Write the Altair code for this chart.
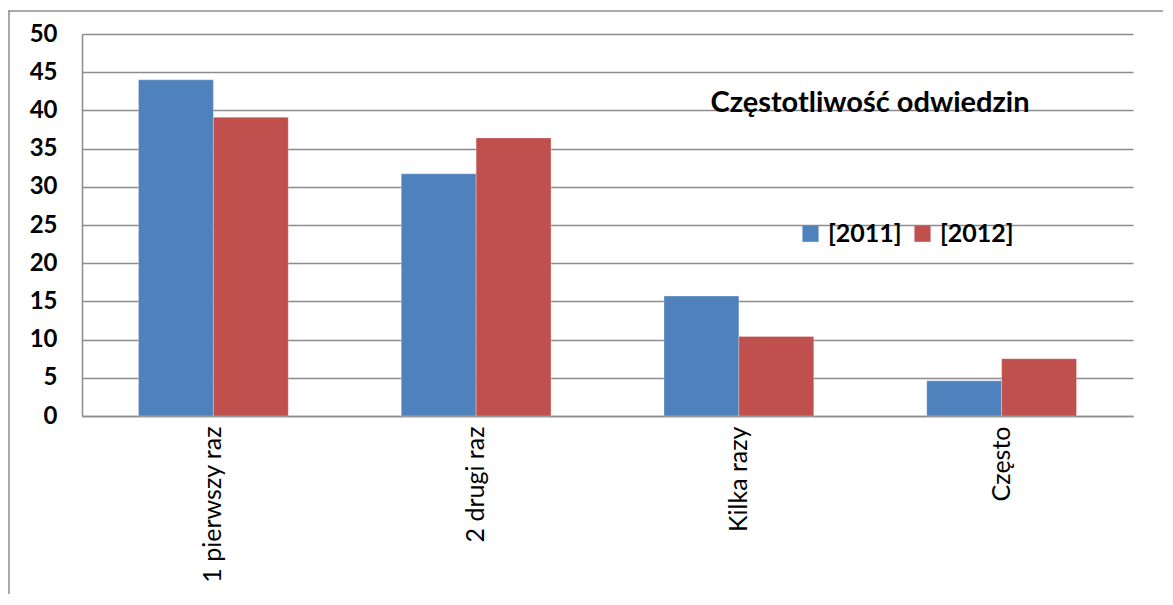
import altair as alt
import pandas as pd

categories = ["1 pierwszy raz", "2 drugi raz", "Kilka razy", "Często"]
series = ["[2011]", "[2012]"]
values_2011 = [44.0, 31.7, 15.7, 4.6]
values_2012 = [39.1, 36.4, 10.4, 7.5]
y_ticks = [0, 5, 10, 15, 20, 25, 30, 35, 40, 45, 50]
colors = ["#4F81BD", "#C0504D"]
title_text = "Częstotliwość odwiedzin"

rows = []
for c, a, b in zip(categories, values_2011, values_2012):
    rows.append({"cat": c, "series": series[0], "value": a})
    rows.append({"cat": c, "series": series[1], "value": b})
df = pd.DataFrame(rows)

FONT = "Lato"
W, H = 1051, 382
PAD_L, PAD_T, PAD_R, PAD_B = 74, 26, 30, 178

bars = alt.Chart(df).mark_bar(stroke="white", strokeOpacity=0.35, strokeWidth=0.8).encode(
    x=alt.X("cat:N", sort=categories, title=None,
            scale=alt.Scale(paddingInner=0.43, paddingOuter=0.215),
            axis=alt.Axis(labelAngle=-90, labelFont=FONT, labelFontSize=25,
                          labelColor="black", labelPadding=10, ticks=False,
                          domainColor="#8c8c8c", domainWidth=1.5,
                          labelAlign="right", labelBaseline="middle", labelLimit=400)),
    xOffset=alt.XOffset("series:N", sort=series, scale=alt.Scale(paddingInner=0, paddingOuter=0)),
    y=alt.Y("value:Q", title=None,
            scale=alt.Scale(domain=[0, 50], nice=False),
            axis=alt.Axis(values=y_ticks, labelFont=FONT, labelFontSize=24,
                          labelFontWeight="bold", labelColor="black",
                          labelPadding=25, ticks=False, grid=True,
                          gridColor="#8c8c8c", gridWidth=1.5,
                          domainColor="#8c8c8c", domainWidth=1.5)),
    color=alt.Color("series:N", sort=series,
                    scale=alt.Scale(domain=series, range=colors),
                    legend=alt.Legend(title=None, orient="none", legendX=716, legendY=187,
                                      direction="horizontal", symbolType="square",
                                      symbolSize=260, symbolStrokeWidth=0,
                                      labelFont=FONT, labelFontSize=25,
                                      labelFontWeight="bold", labelColor="black",
                                      columnPadding=8, labelOffset=5)),
)

title_layer = alt.Chart(alt.Data(values=[{"t": title_text}])).mark_text(
    font=FONT, fontSize=29, fontWeight="bold", color="black",
    align="center", baseline="middle"
).encode(x=alt.value(788), y=alt.value(69), text="t:N")

frame_top = alt.Chart(alt.Data(values=[{}])).mark_rule(
    stroke="#8c8c8c", strokeWidth=1.5, clip=False
).encode(x=alt.value(-PAD_L), x2=alt.value(W + PAD_R), y=alt.value(-23))

frame_left = alt.Chart(alt.Data(values=[{}])).mark_rule(
    stroke="#8c8c8c", strokeWidth=1.5, clip=False
).encode(x=alt.value(-PAD_L + 1), y=alt.value(-23), y2=alt.value(H + PAD_B))

chart = alt.layer(frame_top, frame_left, bars, title_layer).properties(
    width=W, height=H,
    padding={"left": PAD_L, "top": PAD_T, "right": PAD_R, "bottom": PAD_B},
    autosize=alt.AutoSizeParams(type="none"),
).configure_view(stroke=None)

chart.save("out.html", embed_options={"renderer": "svg", "actions": False})
